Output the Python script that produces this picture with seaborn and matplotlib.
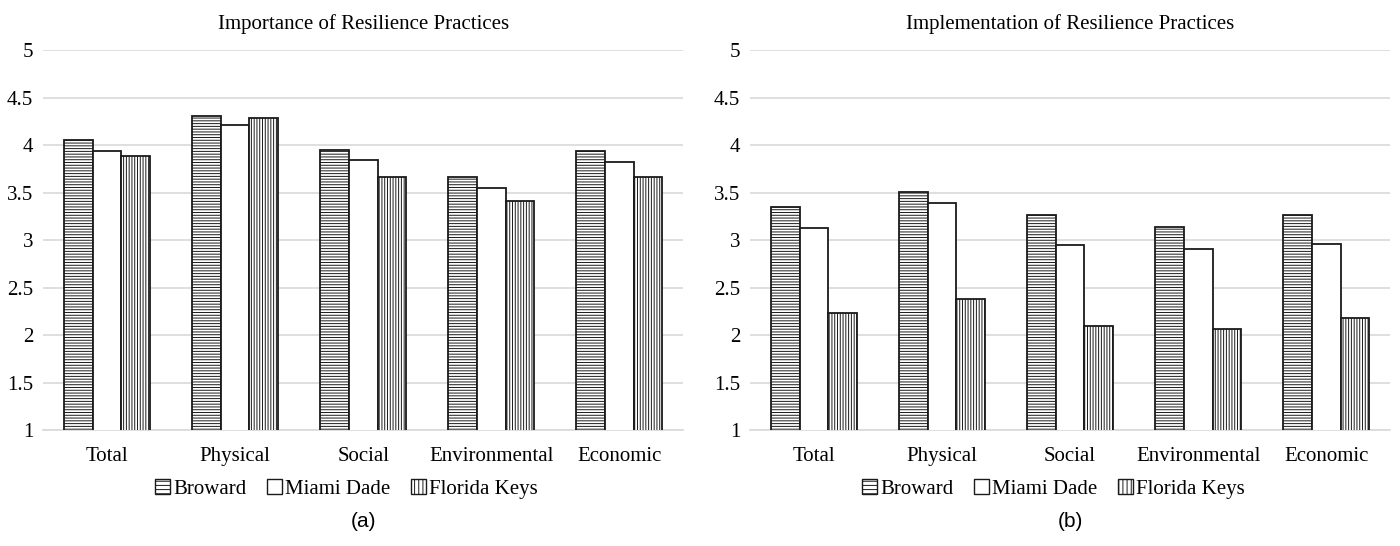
import matplotlib
matplotlib.use("Agg")
import matplotlib.pyplot as plt
import pandas as pd
import seaborn as sns
from matplotlib.patches import Patch

categories = ["Total", "Physical", "Social", "Environmental", "Economic"]
regions = ["Broward", "Miami Dade", "Florida Keys"]

importance_broward = [4.05, 4.31, 3.95, 3.66, 3.94]
importance_miami = [3.94, 4.21, 3.84, 3.55, 3.82]
importance_keys = [3.89, 4.29, 3.66, 3.41, 3.66]

implementation_broward = [3.35, 3.51, 3.26, 3.14, 3.26]
implementation_miami = [3.13, 3.39, 2.95, 2.91, 2.96]
implementation_keys = [2.23, 2.38, 2.10, 2.06, 2.18]

hatches = ["------", "", "||||||"]

sns.set_theme(style="white")
plt.rcParams["font.family"] = ["Liberation Serif", "DejaVu Serif"]
plt.rcParams["hatch.linewidth"] = 0.7
plt.rcParams["hatch.color"] = "#333333"
for key in ["text.color", "axes.labelcolor", "xtick.color", "ytick.color"]:
    plt.rcParams[key] = "black"


def long_frame(b, m, k):
    rows = []
    for vals, reg in zip([b, m, k], regions):
        for cat, v in zip(categories, vals):
            rows.append({"category": cat, "region": reg, "value": v})
    return pd.DataFrame(rows)


def draw(ax, df, title, tag):
    sns.barplot(data=df, x="category", y="value", hue="region",
                order=categories, hue_order=regions, palette=["white"] * 3,
                width=0.675, gap=0, edgecolor="#1a1a1a", linewidth=1.3,
                legend=False, ax=ax, zorder=3)
    for cont, h in zip(ax.containers, hatches):
        for bar in cont:
            bar.set_hatch(h)
    ax.set_ylim(1, 5)
    ax.set_yticks([1, 1.5, 2, 2.5, 3, 3.5, 4, 4.5, 5])
    ax.set_yticklabels(["1", "1.5", "2", "2.5", "3", "3.5", "4", "4.5", "5"])
    ax.yaxis.grid(True, color="#d9d9d9", linewidth=1.2, zorder=0)
    ax.set_axisbelow(True)
    for s in ["left", "right", "top"]:
        ax.spines[s].set_visible(False)
    ax.spines["bottom"].set_color("#d9d9d9")
    ax.spines["bottom"].set_linewidth(1.2)
    ax.tick_params(axis="both", length=0, labelsize=15)
    ax.tick_params(axis="x", pad=12)
    ax.tick_params(axis="y", pad=7)
    ax.set_xlabel("")
    ax.set_ylabel("")
    ax.set_title(title, fontsize=15, pad=15)
    handles = [Patch(facecolor="white", edgecolor="#1a1a1a",
                     hatch=h.replace("------", "----").replace("||||||", "||||"), label=r)
               for h, r in zip(hatches, regions)]
    ax.legend(handles=handles, loc="center", bbox_to_anchor=(0.474, -0.155),
              ncol=3, frameon=False, fontsize=15, handlelength=0.7,
              handleheight=0.7, handletextpad=0.15, columnspacing=1.0,
              borderpad=0)
    ax.text(0.5, -0.242, tag, transform=ax.transAxes, ha="center", va="center",
            fontsize=15, family="Liberation Sans")


fig, axes = plt.subplots(1, 2, figsize=(14, 5.46), dpi=100)
plt.subplots_adjust(left=0.0307, right=0.993, top=0.908, bottom=0.2125, wspace=0.104)

draw(axes[0], long_frame(importance_broward, importance_miami, importance_keys),
     "Importance of Resilience Practices", "(a)")
draw(axes[1], long_frame(implementation_broward, implementation_miami, implementation_keys),
     "Implementation of Resilience Practices", "(b)")

fig.savefig("out.png", dpi=100, facecolor="white")
